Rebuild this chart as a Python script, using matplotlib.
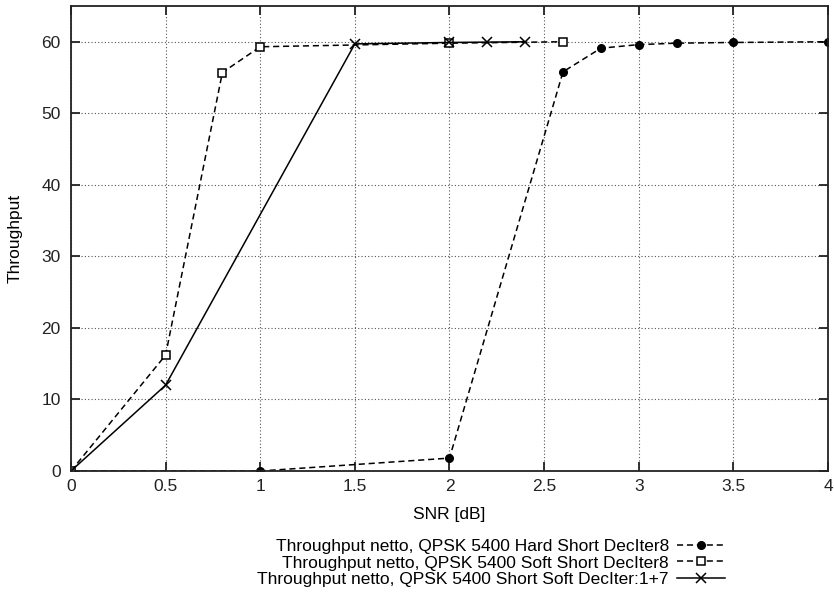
import matplotlib
matplotlib.use("Agg")
import matplotlib.pyplot as plt

plt.rcParams["font.family"] = ["Liberation Sans", "DejaVu Sans"]

# SNR [dB] / throughput per curve
hard_x = [0.0, 1.0, 2.0, 2.6, 2.8, 3.0, 3.2, 3.5, 4.0]
hard_y = [0.0, 0.0, 1.8, 55.8, 59.1, 59.6, 59.8, 59.9, 60.0]

soft_x = [0.0, 0.5, 0.8, 1.0, 2.0, 2.6]
soft_y = [0.0, 16.2, 55.7, 59.3, 59.8, 60.0]

short_x = [0.0, 0.5, 1.5, 2.0, 2.2, 2.4]
short_y = [0.0, 12.0, 59.7, 59.9, 59.95, 60.0]

labels = [
    "Throughput netto, QPSK 5400 Hard Short DecIter8",
    "Throughput netto, QPSK 5400 Soft Short DecIter8",
    "Throughput netto, QPSK 5400 Short Soft DecIter:1+7",
]

xticks = [0, 0.5, 1, 1.5, 2, 2.5, 3, 3.5, 4]
xticklabels = ["0", "0.5", "1", "1.5", "2", "2.5", "3", "3.5", "4"]
yticks = [0, 10, 20, 30, 40, 50, 60]

FS = 12.5

fig = plt.figure(figsize=(8.34, 5.92), dpi=100)
ax = fig.add_axes([0.0851, 0.2044, 0.9077, 0.7855])

dash = (0, (4, 2.5))
ax.plot(hard_x, hard_y, color="black", lw=1.1, ls=dash, marker="o",
        ms=5.5, mfc="black", mec="black", label=labels[0])
ax.plot(soft_x, soft_y, color="black", lw=1.1, ls=dash, marker="s",
        ms=6, mfc="white", mec="black", mew=1.1, label=labels[1])
ax.plot(short_x, short_y, color="black", lw=1.1, ls="-", marker="x",
        ms=7, mec="black", mew=1.1, label=labels[2])

ax.set_xlim(0, 4)
ax.set_ylim(0, 65)
ax.set_xticks(xticks)
ax.set_xticklabels(xticklabels)
ax.set_yticks(yticks)
ax.tick_params(direction="in", length=6.5, width=1.3, top=True, right=True,
               labelsize=FS, colors="#222222")
ax.tick_params(axis="y", pad=7.5)
ax.tick_params(axis="x", pad=6)
ax.grid(True, ls=(0, (1, 2)), color="#555555", lw=0.8)
for s in ax.spines.values():
    s.set_linewidth(1.3)
    s.set_color("#222222")

ax.set_xlabel("SNR [dB]", fontsize=FS)
ax.set_ylabel("Throughput", fontsize=FS)
ax.xaxis.set_label_coords(0.5, -0.077)
ax.yaxis.set_label_coords(-0.064, 0.5)

leg = fig.legend(loc="center right", bbox_to_anchor=(0.88, 0.049),
                 frameon=False, markerfirst=False, fontsize=FS,
                 handlelength=2.8, handletextpad=0.45, labelspacing=0.1,
                 borderpad=0)

fig.savefig("out.png", dpi=100)
